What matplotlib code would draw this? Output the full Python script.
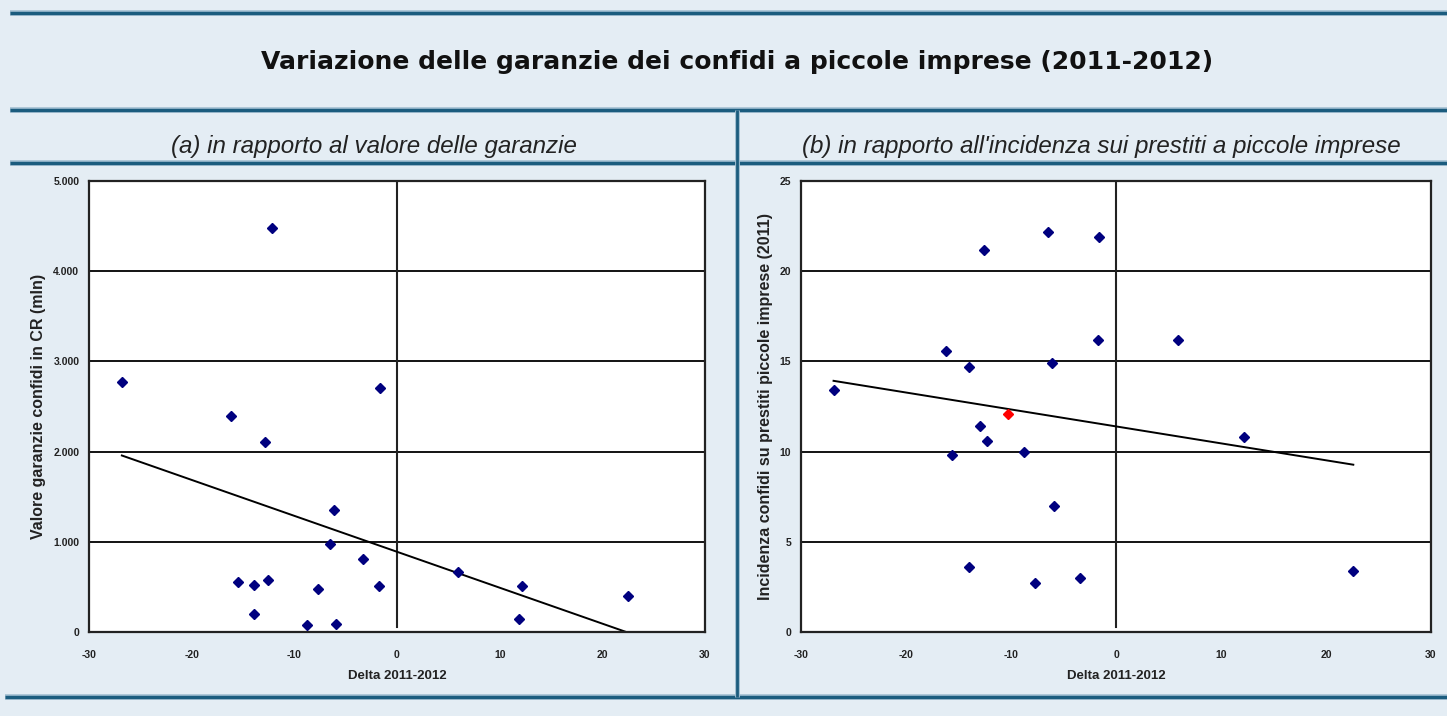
import numpy as np
import matplotlib
matplotlib.use("Agg")
import matplotlib.pyplot as plt
from matplotlib.lines import Line2D
from matplotlib.ticker import FuncFormatter

# ---------------- data ----------------
title = "Variazione delle garanzie dei confidi a piccole imprese (2011-2012)"
subtitle_a = "(a) in rapporto al valore delle garanzie"
subtitle_b = "(b) in rapporto all'incidenza sui prestiti a piccole imprese"
xlabel = "Delta 2011-2012"
ylabel_a = "Valore garanzie confidi in CR (mln)"
ylabel_b = "Incidenza confidi su prestiti piccole imprese (2011)"

x_ticks = [-30, -20, -10, 0, 10, 20, 30]
ya_ticks = [0, 1000, 2000, 3000, 4000, 5000]
yb_ticks = [0, 5, 10, 15, 20, 25]

# panel (a): delta 2011-2012 vs value of guarantees (mln)
a_delta = [-26.8, -12.2, -16.2, -12.9, -1.7, -6.1, -6.5, -3.3, -15.5, -13.9,
           -12.6, -7.7, -1.8, -13.9, -8.8, -5.9, 5.9, 12.2, 11.9, 22.5]
a_value = [2772, 4483, 2391, 2106, 2709, 1349, 976, 806, 551, 521,
           576, 477, 514, 200, 74, 85, 661, 506, 141, 403]

# panel (b): delta 2011-2012 vs incidence on small-firm loans (2011)
b_delta = [-26.9, -12.6, -6.5, -1.6, -16.2, -14.0, -6.1, -1.7, -13.0, -12.3,
           -15.6, -8.8, -5.9, -14.0, -7.7, -3.4, 5.9, 12.2, 22.6]
b_value = [13.4, 21.2, 22.2, 21.9, 15.6, 14.7, 14.9, 16.2, 11.4, 10.6,
           9.8, 10.0, 7.0, 3.6, 2.7, 3.0, 16.2, 10.8, 3.4]
# highlighted point (red)
b_hl_delta = [-10.3]
b_hl_value = [12.1]

# ---------------- style ----------------
W, H = 1447, 716
bg = "#e4edf4"
frame = "#1b5c7e"
navy = "#00007f"

fig = plt.figure(figsize=(W / 100, H / 100), dpi=100, facecolor=bg)

def fx(px):
    return px / W

def fy(py):
    return 1 - py / H

def hline(y, x0, x1):
    fig.add_artist(Line2D([fx(x0), fx(x1)], [fy(y), fy(y)], color="#9fbdd0", lw=4.0, solid_capstyle="butt"))
    fig.add_artist(Line2D([fx(x0), fx(x1)], [fy(y), fy(y)], color=frame, lw=2.4, solid_capstyle="butt"))

def vline(x, y0, y1):
    fig.add_artist(Line2D([fx(x), fx(x)], [fy(y0), fy(y1)], color="#9fbdd0", lw=3.5, solid_capstyle="butt"))
    fig.add_artist(Line2D([fx(x), fx(x)], [fy(y0), fy(y1)], color=frame, lw=2.0, solid_capstyle="butt"))

hline(13, 10, W)
hline(110, 10, W)
hline(163, 10, W)
hline(697, 5, W)
vline(737, 110, 697)

fig.text(fx(737), fy(62), title, ha="center", va="center", fontsize=18.0,
         fontweight="bold", family=["DejaVu Sans"], color="#111111")
narrow = ["Liberation Sans Narrow", "Liberation Sans", "DejaVu Sans"]
fig.text(fx(374), fy(147), subtitle_a, ha="center", va="center", fontsize=17.4,
         style="italic", family=narrow, color="#222222")
fig.text(fx(1101), fy(147), subtitle_b, ha="center", va="center", fontsize=17.4,
         style="italic", family=narrow, color="#222222")

def make_axes(left, right, top, bottom):
    return fig.add_axes([fx(left), fy(bottom), fx(right - left), (bottom - top) / H])

def style_axes(ax, yticks, ymax, fmt, ylabel):
    ax.set_facecolor("white")
    ax.set_xlim(-30, 30)
    ax.set_ylim(0, ymax)
    ax.set_xticks(x_ticks)
    ax.set_yticks(yticks)
    ax.yaxis.set_major_formatter(FuncFormatter(fmt))
    ax.xaxis.set_major_formatter(FuncFormatter(lambda v, p: f"{int(v)}"))
    for s in ax.spines.values():
        s.set_color("#222222")
        s.set_linewidth(1.6)
    ax.tick_params(length=0, labelsize=7.5, colors="#222222")
    ax.tick_params(axis="x", pad=13)
    ax.tick_params(axis="y", pad=7)
    for lab in ax.get_xticklabels() + ax.get_yticklabels():
        lab.set_family(narrow)
        lab.set_fontweight("bold")
    ax.grid(axis="y", color="black", lw=1.3)
    ax.set_axisbelow(True)
    ax.axvline(0, color="#222222", lw=1.5, ymax=1.0, ymin=0.01, zorder=1)
    ax.set_xlabel(xlabel, fontsize=9.5, fontweight="bold", family=narrow, labelpad=7, color="#222222")
    ax.set_ylabel(ylabel, fontsize=11.5, fontweight="bold", family=narrow, labelpad=5, color="#222222")

def trend(ax, x, y, extra_x=(), extra_y=()):
    xs = np.array(list(x) + list(extra_x), dtype=float)
    ys = np.array(list(y) + list(extra_y), dtype=float)
    k, c = np.polyfit(xs, ys, 1)
    xx = np.array([xs.min(), xs.max()])
    ax.plot(xx, k * xx + c, color="black", lw=1.4, zorder=2)

# panel a
ax_a = make_axes(89, 705, 181, 632)
style_axes(ax_a, ya_ticks, 5000, lambda v, p: f"{int(v):,}".replace(",", "."), ylabel_a)
trend(ax_a, a_delta, a_value)
ax_a.plot(a_delta, a_value, "D", color=navy, ms=5.5, ls="none", zorder=3)

# panel b
ax_b = make_axes(801, 1431, 181, 632)
style_axes(ax_b, yb_ticks, 25, lambda v, p: f"{int(v)}", ylabel_b)
trend(ax_b, b_delta, b_value, b_hl_delta, b_hl_value)
ax_b.plot(b_delta, b_value, "D", color=navy, ms=5.5, ls="none", zorder=3)
ax_b.plot(b_hl_delta, b_hl_value, "D", color="#ff0000", ms=5.5, ls="none", zorder=3)

fig.savefig("out.png", dpi=100, facecolor=bg)
